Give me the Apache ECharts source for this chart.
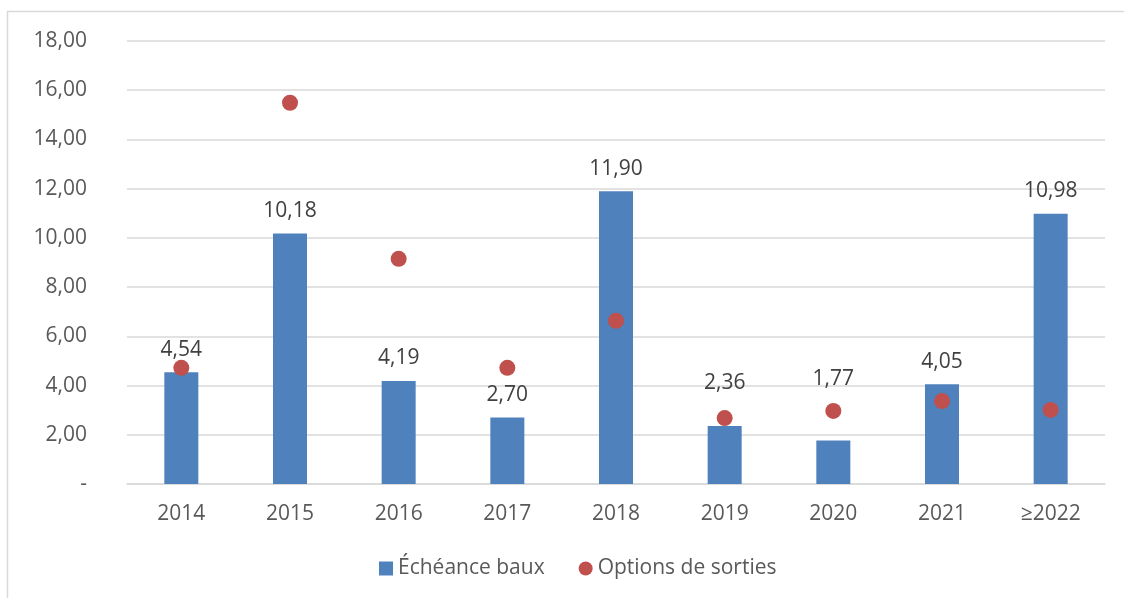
<!DOCTYPE html>
<html>
<head>
<meta charset="utf-8">
<script src="https://cdn.jsdelivr.net/npm/echarts@6/dist/echarts.min.js"></script>
<style>
html, body { margin: 0; padding: 0; background: #fff; }
#chart { width: 1124px; height: 598px; }
</style>
</head>
<body>
<div id="chart"></div>
<script>
var categories = ['2014', '2015', '2016', '2017', '2018', '2019', '2020', '2021', '≥2022'];
var echeanceBaux = [4.54, 10.18, 4.19, 2.70, 11.90, 2.36, 1.77, 4.05, 10.98];
var optionsSorties = [4.72, 15.49, 9.15, 4.72, 6.63, 2.68, 2.97, 3.37, 3.01];
// labels moved up by hand in the original so they clear the dots
var labelShift = [0, 0, 0, 0, 0, 20, 39, 0, 0];

function fr(v) {
	return v.toFixed(2).replace('.', ',');
}

var barData = [];
for (var i = 0; i < echeanceBaux.length; i++) {
	barData.push({
		value: echeanceBaux[i],
		label: { distance: 12 + labelShift[i] }
	});
}

var myChart = echarts.init(document.getElementById('chart'));

var option = {
	backgroundColor: '#fff',
	animation: false,
	textStyle: { fontFamily: 'Open Sans' },
	graphic: [{
		type: 'rect',
		shape: { x: 7.5, y: 11.5, width: 1130, height: 600 },
		style: { fill: 'none', stroke: '#d9d9d9', lineWidth: 1.5 },
		silent: true
	}],
	grid: { left: 127, right: 19, top: 41, bottom: 114 },
	legend: {
		top: 553,
		left: 374,
		itemGap: 34,
		itemWidth: 14,
		itemHeight: 14,
		textStyle: { color: '#595959', fontSize: 21 },
		data: [
			{ name: 'Échéance baux', icon: 'rect' },
			{ name: 'Options de sorties', icon: 'circle' }
		]
	},
	xAxis: {
		type: 'category',
		data: categories,
		axisLine: { lineStyle: { color: '#d9d9d9', width: 1.5 } },
		axisTick: { show: false },
		axisLabel: { color: '#595959', fontSize: 21, margin: 20 }
	},
	yAxis: {
		type: 'value',
		min: 0,
		max: 18,
		interval: 2,
		axisLine: { show: false },
		axisTick: { show: false },
		splitLine: { lineStyle: { color: '#d9d9d9', width: 1.5 } },
		axisLabel: {
			color: '#595959',
			fontSize: 21,
			margin: 40,
			formatter: function (v) { return v === 0 ? '-' : fr(v); }
		}
	},
	series: [{
		name: 'Échéance baux',
		type: 'bar',
		barWidth: 34,
		itemStyle: { color: '#4f81bd' },
		label: {
			show: true,
			position: 'top',
			color: '#404040',
			fontSize: 21,
			formatter: function (p) { return fr(p.value); }
		},
		data: barData
	}, {
		name: 'Options de sorties',
		type: 'scatter',
		symbol: 'circle',
		symbolSize: 16,
		itemStyle: { color: '#c0504d', opacity: 1 },
		z: 3,
		data: optionsSorties
	}]
};
myChart.setOption(option);
</script>
</body>
</html>
